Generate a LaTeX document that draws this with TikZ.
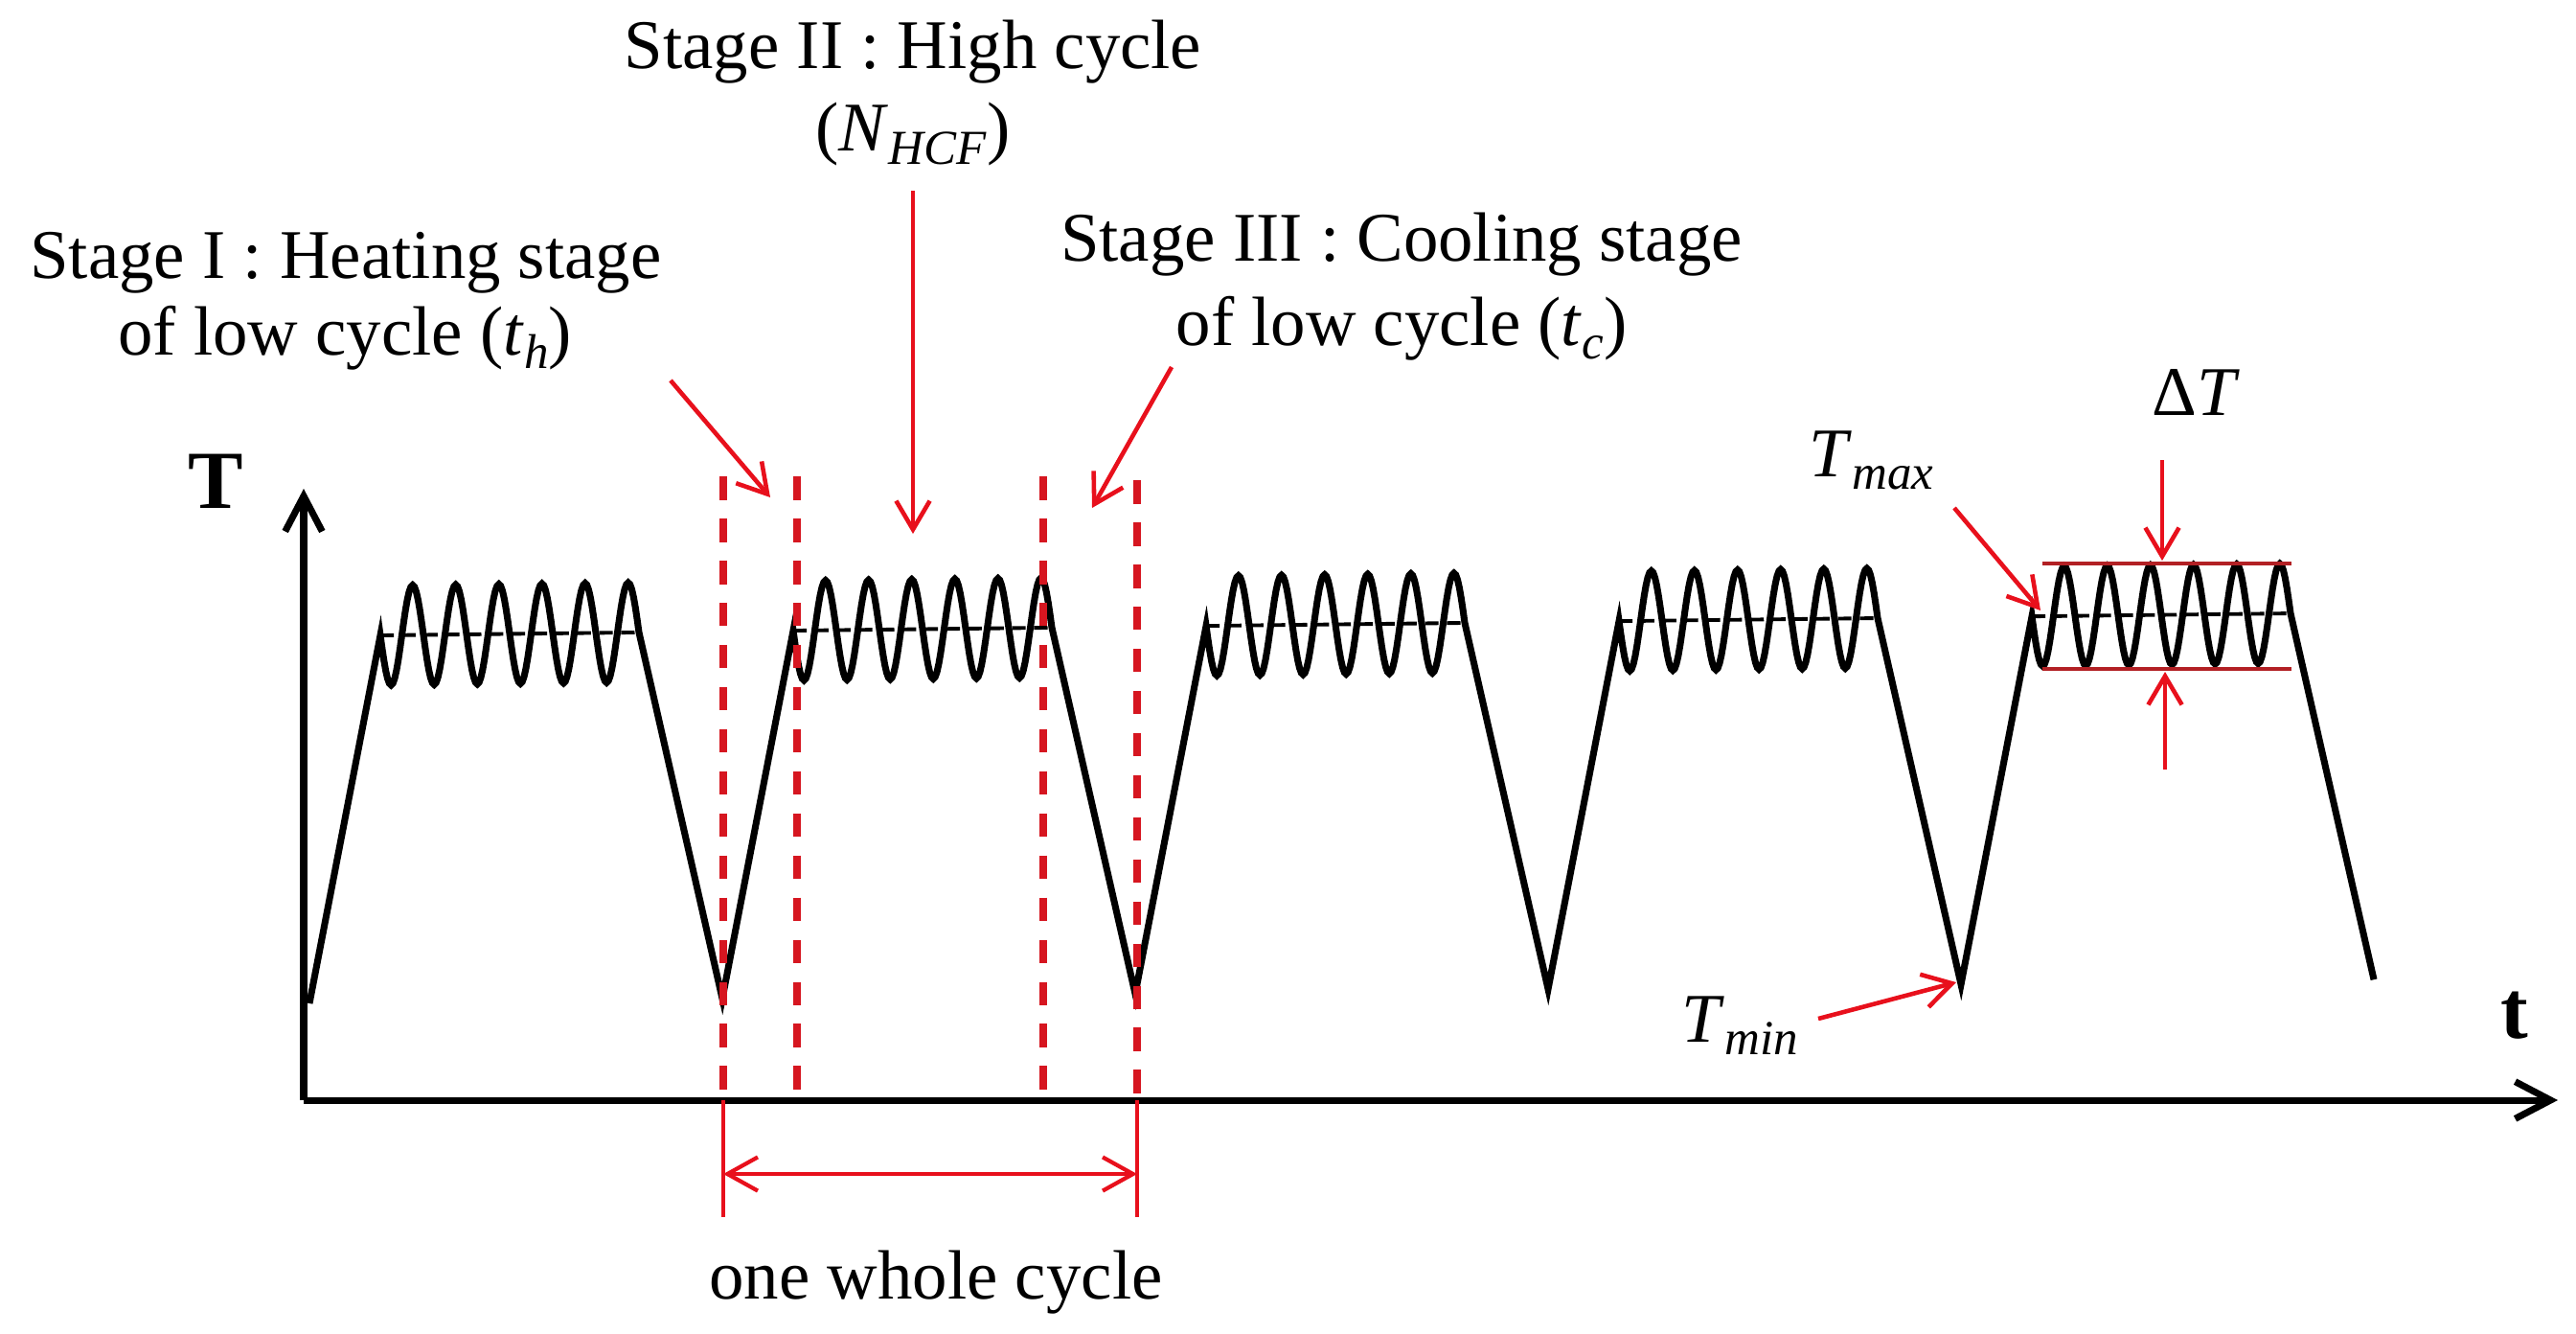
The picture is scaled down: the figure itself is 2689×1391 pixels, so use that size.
\documentclass[tikz,border=0pt]{standalone}
\usepackage{fontspec}
\setmainfont{Liberation Serif}
\usetikzlibrary{arrows.meta}
\definecolor{myred}{RGB}{232,16,28}
\definecolor{dashred}{RGB}{214,22,32}
\definecolor{darkred}{RGB}{178,32,36}
\newcommand\lowsub[2]{\raisebox{-#1}{\fontsize{14.5}{14.5}\selectfont\textit{#2}}}
\begin{document}
\begin{tikzpicture}[x=0.01cm, y=-0.01cm,
  lbl/.style={anchor=base, inner sep=0pt, font=\fontsize{20.7}{25}\selectfont},
  lblw/.style={anchor=base west, inner sep=0pt, font=\fontsize{20.7}{25}\selectfont},
  axlbl/.style={anchor=base, inner sep=0pt, font=\fontsize{24.5}{28}\selectfont\bfseries},
  wave/.style={line width=2pt, line join=miter},
  meanline/.style={line width=1.1pt, dash pattern=on 4pt off 2.5pt},
  axisline/.style={line width=2pt, -{Straight Barb[length=10.5pt,width=11pt]}},
  stagearrow/.style={draw=myred, line width=1.3pt, -{Straight Barb[length=8.5pt,width=10pt]}},
  reddash/.style={draw=dashred, line width=2.1pt, dash pattern=on 7pt off 5.5pt},
  redsolid/.style={draw=myred, line width=1.2pt},
  bound/.style={draw=darkred, line width=1.4pt}
]
\fill[white] (0,0) rectangle (2689,1391);
\useasboundingbox (0,0) rectangle (2689,1391);

% axes
\coordinate (origin) at (317,1148);
\coordinate (ytip) at (317,510);
\coordinate (xtip) at (2670,1148);
\draw[axisline] (origin) -- (ytip);
\draw[axisline] (origin) -- (xtip);
\node[axlbl] (Tlbl) at (225,530) {T};
\node[axlbl] (tlbl) at (2625,1083) {t};

% mean (dashed) lines
\foreach \i [evaluate=\i as \xa using 397+431*\i,
             evaluate=\i as \xb using 667+431*\i] in {0,...,4}{
  \draw[meanline] (\xa,{663-0.0115*(\xa-397)}) -- (\xb,{663-0.0115*(\xb-397)});
}

% waveform
\draw[wave] (323,1047)
  \foreach \i [evaluate=\i as \xa using 397+431*\i,
               evaluate=\i as \xb using 667+431*\i,
               evaluate=\i as \xv using 754+431*\i] in {0,...,4}{
    -- plot[domain=\xa:\xb, samples=145] (\x, {663-0.0115*(\x-397)+52*sin(8*(\x-\xa))})
    -- (\xv, {1047-0.0115*(\xv-323)})
  };

% red dashed stage boundaries
\coordinate (d1t) at (755,497);  \coordinate (d1b) at (755,1148);
\coordinate (d2t) at (832,497);  \coordinate (d2b) at (832,1148);
\coordinate (d3t) at (1089,497); \coordinate (d3b) at (1089,1148);
\coordinate (d4t) at (1187,501); \coordinate (d4b) at (1187,1148);
\draw[reddash] (d1t) -- (d1b);
\draw[reddash] (d2t) -- (d2b);
\draw[reddash] (d3t) -- (d3b);
\draw[reddash] (d4t) -- (d4b);
\coordinate (e1) at (755,1270);
\coordinate (e2) at (1187,1270);
\draw[redsolid] (d1b) -- (e1);
\draw[redsolid] (d4b) -- (e2);
\coordinate (c1) at (755,1225);
\coordinate (c2) at (1187,1225);
\draw[redsolid, {Straight Barb[length=9pt,width=10pt]}-{Straight Barb[length=9pt,width=10pt]}] (c1) -- (c2);
\node[lbl] (whole) at (977,1355) {one whole cycle};

% stage labels
\node[lbl] (s2a) at (953,72) {Stage II : High cycle};
\node[lbl] (s2b) at (953,157) {(\textit{N}\lowsub{4pt}{HCF})};
\node[lbl] (s1a) at (361,290) {Stage I : Heating stage};
\node[lbl] (s1b) at (360,370) {of low cycle (\textit{t}\lowsub{4pt}{h})};
\node[lbl] (s3a) at (1463,272) {Stage III : Cooling stage};
\node[lbl] (s3b) at (1463,360) {of low cycle (\textit{t}\lowsub{4pt}{c})};

\coordinate (a1s) at (700,397);  \coordinate (a1e) at (804,519);
\coordinate (a2s) at (953,199);  \coordinate (a2e) at (953,557);
\coordinate (a3s) at (1223,383); \coordinate (a3e) at (1140,530);
\draw[stagearrow] (a1s) -- (a1e);
\draw[stagearrow] (a2s) -- (a2e);
\draw[stagearrow] (a3s) -- (a3e);

% Tmax, Tmin, Delta T
\node[lblw] (tmax) at (1888,497) {\textit{T}\lowsub{3.7pt}{max}};
\node[lblw] (tmin) at (1755,1087) {\textit{T}\lowsub{3.7pt}{min}};
\node[lbl] (dT) at (2292,433) {Δ\textit{T}};
\coordinate (amx) at (2040,530); \coordinate (amxe) at (2130,637);
\coordinate (amn) at (1898,1063); \coordinate (amne) at (2042,1025);
\draw[stagearrow] (amx) -- (amxe);
\draw[stagearrow] (amn) -- (amne);
\coordinate (bt1) at (2132,588); \coordinate (bt2) at (2392,588);
\coordinate (bb1) at (2132,698); \coordinate (bb2) at (2392,698);
\draw[bound] (bt1) -- (bt2);
\draw[bound] (bb1) -- (bb2);
\coordinate (dts) at (2257,480); \coordinate (dte) at (2257,585);
\coordinate (dbs) at (2260,803); \coordinate (dbe) at (2260,701);
\draw[stagearrow] (dts) -- (dte);
\draw[stagearrow] (dbs) -- (dbe);
\end{tikzpicture}
\end{document}
